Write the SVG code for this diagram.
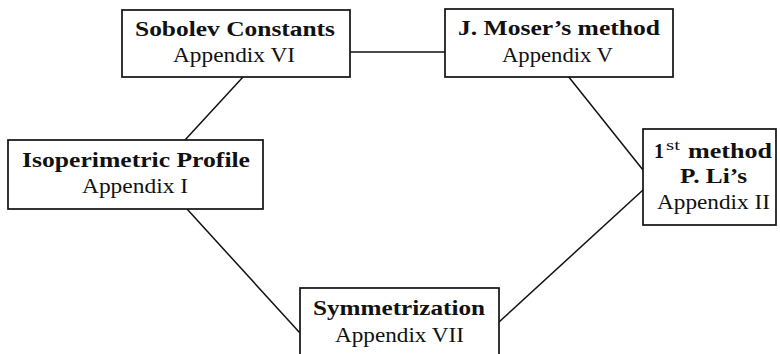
<svg xmlns="http://www.w3.org/2000/svg" width="780" height="354" viewBox="0 0 780 354">
<style>
.box{fill:#fff;stroke:#111;stroke-width:1.7}
.b{font-family:"Liberation Serif",serif;font-weight:bold;font-size:20px;fill:#111}
.r{font-family:"Liberation Serif",serif;font-size:20.5px;fill:#111}
.s{font-family:"Liberation Serif",serif;font-size:14px;fill:#111}
.c{stroke:#111;stroke-width:1.5;fill:none}
</style>
<rect width="780" height="354" fill="#fff"/>
<g id="connectors">
<line class="c" x1="350" y1="52" x2="445" y2="52"/>
<line class="c" x1="243" y1="77" x2="185" y2="140"/>
<line class="c" x1="568" y1="76" x2="643" y2="170"/>
<line class="c" x1="187" y1="209" x2="300" y2="333"/>
<line class="c" x1="643" y1="190" x2="499" y2="322"/>
</g>
<g id="sobolev">
<rect class="box" x="122" y="10" width="228" height="67"/>
<text class="b" x="135" y="36" textLength="200" lengthAdjust="spacingAndGlyphs">Sobolev Constants</text>
<text class="r" x="173" y="62" textLength="122" lengthAdjust="spacingAndGlyphs">Appendix VI</text>
</g>
<g id="moser">
<rect class="box" x="445" y="9" width="228" height="68"/>
<text class="b" x="458" y="35" textLength="202" lengthAdjust="spacingAndGlyphs">J. Moser’s method</text>
<text class="r" x="502" y="62" textLength="111" lengthAdjust="spacingAndGlyphs">Appendix V</text>
</g>
<g id="isoperimetric">
<rect class="box" x="8" y="140" width="255" height="69"/>
<text class="b" x="22" y="167" textLength="228" lengthAdjust="spacingAndGlyphs">Isoperimetric Profile</text>
<text class="r" x="82" y="193" textLength="106" lengthAdjust="spacingAndGlyphs">Appendix I</text>
</g>
<g id="li">
<rect class="box" x="643" y="129" width="133" height="96"/>
<text class="b" x="654" y="158" textLength="10" lengthAdjust="spacingAndGlyphs">1</text>
<text class="s" x="666" y="150" textLength="14" lengthAdjust="spacingAndGlyphs">st</text>
<text class="b" x="688" y="158" textLength="84" lengthAdjust="spacingAndGlyphs">method</text>
<text class="b" x="680" y="183" textLength="67" lengthAdjust="spacingAndGlyphs">P. Li’s</text>
<text class="r" x="657" y="209" textLength="113" lengthAdjust="spacingAndGlyphs">Appendix II</text>
</g>
<g id="symmetrization">
<rect class="box" x="300" y="288" width="199" height="80"/>
<text class="b" x="313" y="315" textLength="172" lengthAdjust="spacingAndGlyphs">Symmetrization</text>
<text class="r" x="335" y="342" textLength="129" lengthAdjust="spacingAndGlyphs">Appendix VII</text>
</g>
</svg>
